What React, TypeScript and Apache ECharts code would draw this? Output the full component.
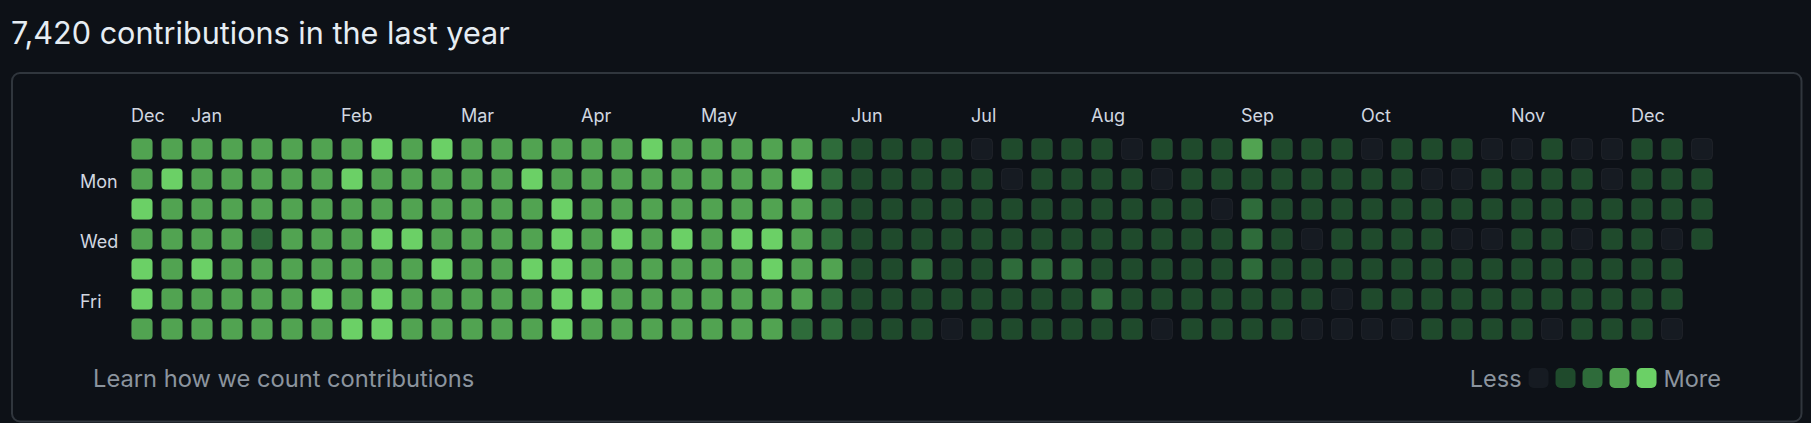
import React, { useEffect, useRef } from "react";
import * as echarts from "echarts";

const TITLE = "7,420 contributions in the last year";
const FOOTER = "Learn how we count contributions";
const DAY_LABELS = ["", "Mon", "", "Wed", "", "Fri", ""];
const MONTH_NAMES = ["Dec", "Jan", "Feb", "Mar", "Apr", "May", "Jun", "Jul", "Aug", "Sep", "Oct", "Nov", "Dec"];
const MONTH_START_WEEKS = [0, 2, 7, 11, 15, 19, 24, 28, 32, 37, 41, 46, 50];
const WEEK_COUNT = 53;
const LEVEL_COLORS = ["#161b22", "#1f4a2c", "#2e6b3a", "#51a351", "#6bd066"];
const LEGEND_TEXT = ["More", "Less"];

// contribution level (0-4) per week, one array per weekday
const sun = [3,3,3,3,3,3,3,3,4,3,4,3,3, 3,3,3,3,4,3,3,3,3,3,2,1,1,1,1, 0,1,1,1,1,0,1,1,1,3,1,1,1,0, 1,1,1,0,0,1,0,0,1,1,0];
const mon = [3,4,3,3,3,3,3,4,3,3,3,3,3, 4,3,3,3,3,3,3,3,3,4,2,1,1,1,1, 1,0,1,1,1,1,0,1,1,1,1,1,1,1, 1,0,0,1,1,1,1,0,1,1,1];
const tue = [4,3,3,3,3,3,3,3,3,3,3,3,3, 3,4,3,3,3,3,3,3,3,3,2,1,1,1,1, 1,1,1,1,1,1,1,1,0,2,1,1,1,1, 1,1,1,1,1,1,1,1,1,1,1];
const wed = [3,3,3,3,2,3,3,3,4,4,3,3,3, 3,4,3,4,3,4,3,4,4,3,2,1,1,1,1, 1,1,1,1,1,1,1,1,1,2,1,0,1,1, 1,1,0,0,1,1,0,1,1,0,1];
const thu = [4,3,4,3,3,3,3,3,3,3,4,3,3, 4,4,3,3,3,3,3,3,4,3,3,1,1,2,1, 1,2,2,2,1,1,1,1,1,2,1,1,1,1, 1,1,1,1,1,1,1,1,1,1];
const fri = [4,3,3,3,3,3,4,3,4,3,3,3,3, 3,4,4,3,3,3,3,3,3,3,2,1,1,1,1, 1,1,1,1,2,1,1,1,1,1,1,1,0,1, 1,1,1,1,1,1,1,1,1,1];
const sat = [3,3,3,3,3,3,3,4,4,3,3,3,3, 3,4,3,3,3,3,3,3,3,2,2,1,1,1,0, 1,1,1,1,1,1,0,1,1,1,1,0,0,0, 0,1,1,1,1,0,1,1,1,0];
const WEEKDAY_ROWS = [sun, mon, tue, wed, thu, fri, sat];

const CELL_GAP = 8;

export default function App() {
  const ref = useRef<HTMLDivElement>(null);

  useEffect(() => {
    if (!ref.current) return;
    const chart = echarts.init(ref.current, null, { renderer: "svg" });

    const weekLabels: string[] = [];
    for (let w = 0; w < WEEK_COUNT; w++) {
      const idx = MONTH_START_WEEKS.indexOf(w);
      weekLabels.push(idx >= 0 ? MONTH_NAMES[idx] : "");
    }

    const data: number[][] = [];
    WEEKDAY_ROWS.forEach((row, d) => {
      row.forEach((lvl, w) => data.push([w, d, lvl]));
    });

    const option: any = {
      animation: false,
      backgroundColor: "#0d1117",
      textStyle: { fontFamily: "Inter" },
      title: [
        {
          text: TITLE,
          left: 11,
          top: 17,
          padding: 0,
          textStyle: { color: "#e6edf3", fontSize: 30.6, fontWeight: 400, fontFamily: "Inter" },
        },
        {
          text: FOOTER,
          left: 93,
          top: 366,
          padding: 0,
          textStyle: { color: "#8b949e", fontSize: 23.7, fontWeight: 400, fontFamily: "Inter" },
        },
      ],
      grid: { left: 116, top: 134, width: 1590, height: 210 },
      xAxis: {
        type: "category",
        position: "top",
        data: weekLabels,
        axisLine: { show: false },
        axisTick: { show: false },
        splitLine: { show: false },
        axisLabel: { interval: 0, align: "left", margin: 10, color: "#d1d7e0", fontSize: 18, fontFamily: "Inter" },
      },
      yAxis: {
        type: "category",
        inverse: true,
        data: DAY_LABELS,
        axisLine: { show: false },
        axisTick: { show: false },
        splitLine: { show: false },
        axisLabel: {
          interval: 0,
          align: "left",
          verticalAlign: "top",
          lineHeight: 4,
          margin: 36,
          color: "#d1d7e0",
          fontSize: 18,
          fontFamily: "Inter",
        },
      },
      visualMap: {
        type: "piecewise",
        orient: "horizontal",
        right: 90,
        top: 366,
        padding: 0,
        itemWidth: 20,
        itemHeight: 20,
        itemGap: 7,
        textGap: 7,
        itemSymbol: "roundRect",
        text: LEGEND_TEXT,
        textStyle: { color: "#8b949e", fontSize: 23.5, fontFamily: "Inter" },
        dimension: 2,
        seriesIndex: 0,
        selectedMode: false,
        pieces: LEVEL_COLORS.map((c, i) => ({ value: i, color: c })),
      },
      graphic: [
        {
          type: "rect",
          silent: true,
          shape: { x: 12, y: 73, width: 1789.5, height: 348.5, r: 8 },
          style: { fill: "none", stroke: "#30363d", lineWidth: 2 },
        },
      ],
      series: [
        {
          type: "custom",
          data,
          encode: { x: 0, y: 1 },
          renderItem: (_params: any, api: any) => {
            const p = api.coord([api.value(0), api.value(1)]);
            const s = api.size([1, 1]);
            const w = s[0] - CELL_GAP;
            const h = s[1] - CELL_GAP;
            return {
              type: "rect",
              shape: { x: p[0] + 0.5, y: p[1] - h / 2 + 0.5, width: w - 1, height: h - 1, r: 4 },
              style: { fill: LEVEL_COLORS[api.value(2)], stroke: "rgba(255,255,255,0.05)", lineWidth: 1 },
            };
          },
        },
      ],
    };

    chart.setOption(option);
    return () => chart.dispose();
  }, []);

  return (
    <div
      ref={ref}
      style={{ position: "absolute", left: 0, top: 0, width: 1811, height: 423, background: "#0d1117" }}
    />
  );
}
